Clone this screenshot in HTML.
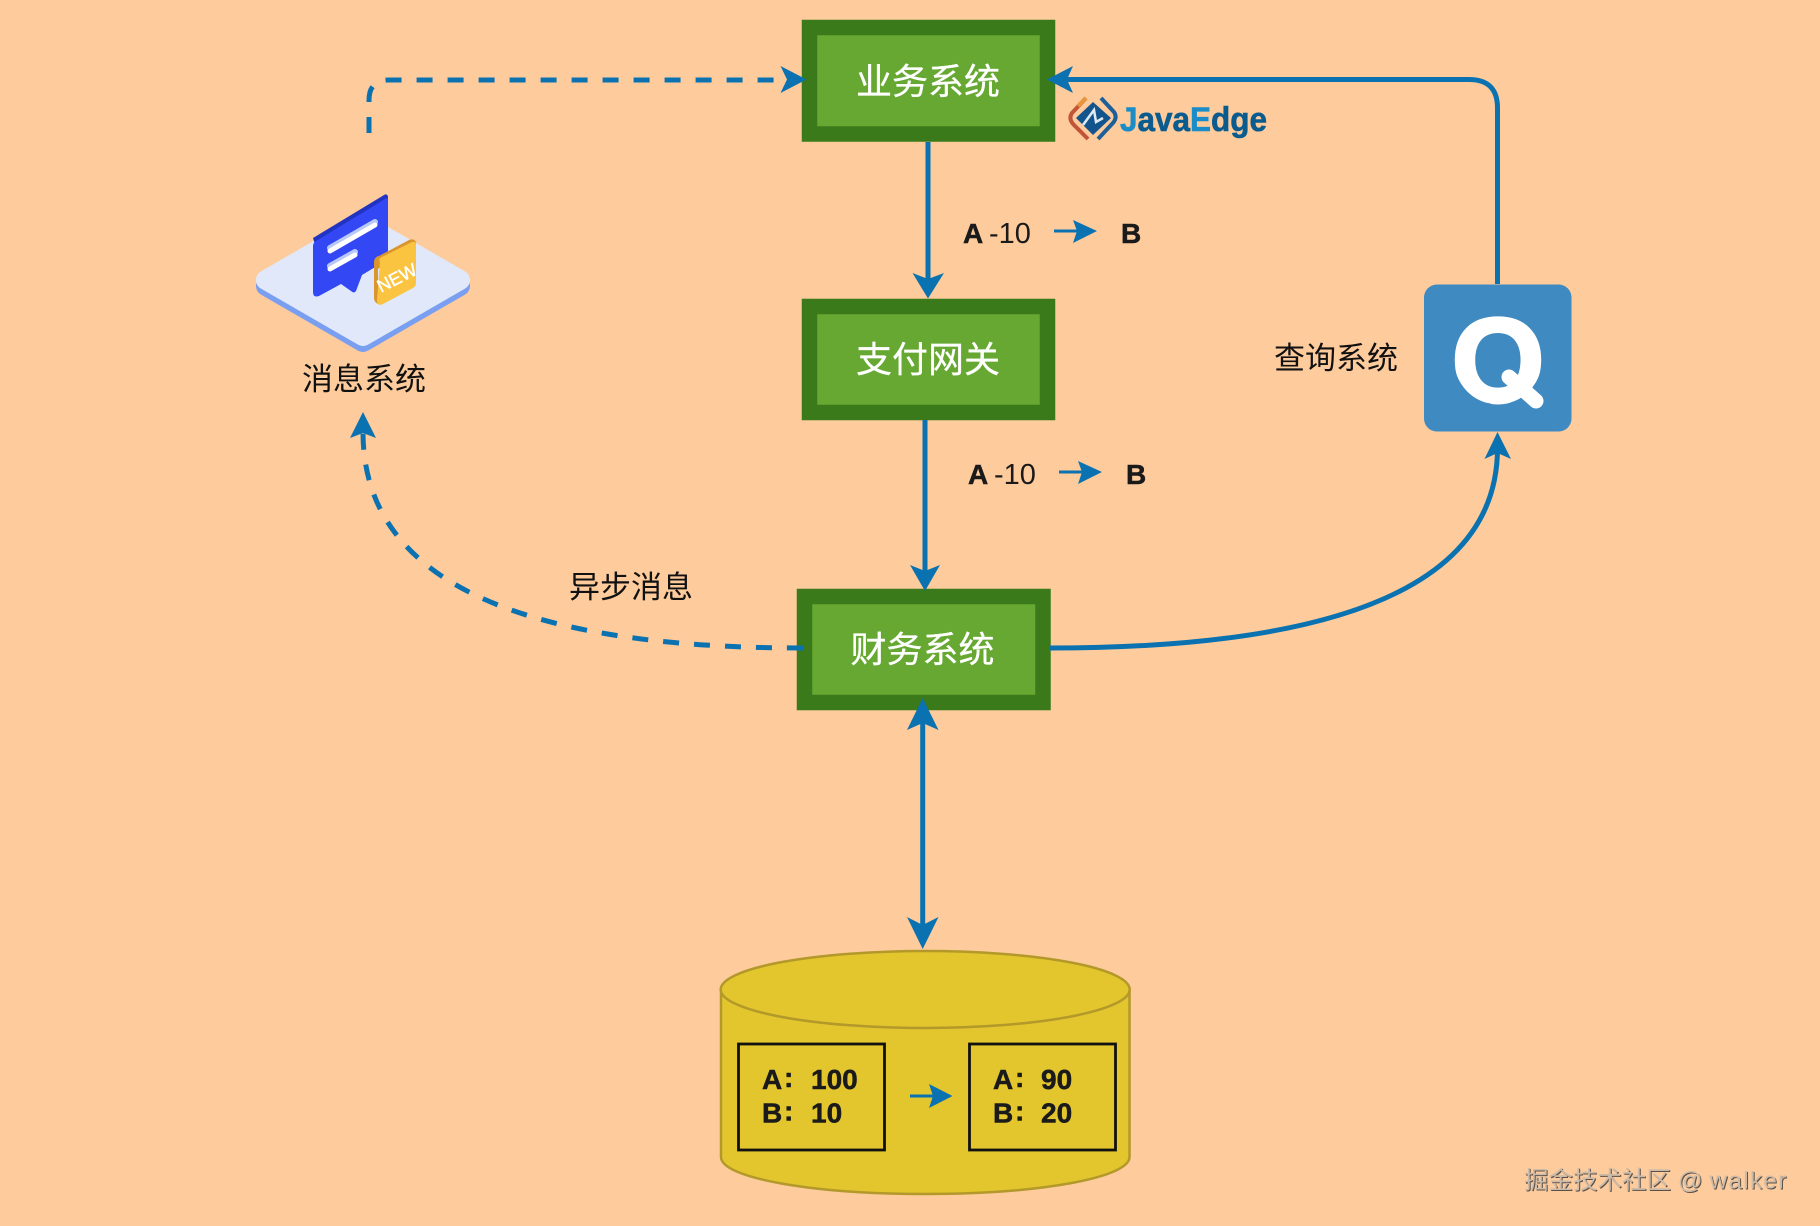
<!DOCTYPE html>
<html lang="zh">
<head>
<meta charset="utf-8">
<title>Diagram</title>
<style>
html,body{margin:0;padding:0;background:#fecb9c;}
svg{display:block;}
text{font-family:"Liberation Sans","Noto Sans CJK SC",sans-serif;}
.cn{font-size:31px;fill:#111;text-anchor:middle;}
.box{font-size:36px;fill:#fff;text-anchor:middle;stroke:#fff;stroke-width:.3px;}
.b{font-weight:bold;fill:#1a1a1a;font-size:28px;stroke:#1a1a1a;stroke-width:.5px;}
.r{fill:#1a1a1a;font-size:29px;}
</style>
</head>
<body>
<svg width="1820" height="1226" viewBox="0 0 1820 1226" xmlns="http://www.w3.org/2000/svg">
<defs><clipPath id="qc"><ellipse cx="1498" cy="357.500" rx="44.500" ry="47"/></clipPath></defs>
<rect width="1820" height="1226" fill="#fecb9c"/>

<!-- cylinder -->
<path d="M721,990 V1157 C721,1178 812,1194 925,1194 C1038,1194 1129.500,1178 1129.500,1157 V990 Z" fill="#e3c62e" stroke="#b3982a" stroke-width="2.500"/>
<ellipse cx="925.200" cy="989.500" rx="204.500" ry="38.500" fill="#e3c62e" stroke="#b3982a" stroke-width="2.500"/>
<rect x="738.500" y="1044" width="146" height="106" fill="none" stroke="#111" stroke-width="2.800"/>
<rect x="969.500" y="1044" width="146" height="106" fill="none" stroke="#111" stroke-width="2.800"/>
<g class="db">
<text class="b" x="762" y="1089">A</text><text class="b" x="784" y="1087">:</text><text class="b" x="811" y="1089">100</text>
<text class="b" x="762" y="1122.500">B</text><text class="b" x="784" y="1120.500">:</text><text class="b" x="811" y="1122.500">10</text>
<text class="b" x="993" y="1089">A</text><text class="b" x="1015" y="1087">:</text><text class="b" x="1041" y="1089">90</text>
<text class="b" x="993" y="1122.500">B</text><text class="b" x="1015" y="1120.500">:</text><text class="b" x="1041" y="1122.500">20</text>
</g>
<path d="M910,1096 H936" stroke="#0a72b0" stroke-width="3" fill="none"/>
<polygon points="952.500,1096 929,1084 933,1096 929,1108" fill="#0a72b0"/>

<!-- green boxes -->
<g fill="#66a832" stroke="#3a7a1a" stroke-width="15.500">
<rect x="809.500" y="27.500" width="238" height="106.500"/>
<rect x="809.500" y="306.500" width="238" height="106"/>
<rect x="804.500" y="596.500" width="238.500" height="106"/>
</g>
<text class="box" x="928" y="94">业务系统</text>
<text class="box" x="928" y="372">支付网关</text>
<text class="box" x="922.500" y="662">财务系统</text>

<!-- connectors -->
<g fill="none" stroke="#0a72b0" stroke-width="5">
<path d="M369,133 V100 Q369,80 389,80 H785" stroke-dasharray="16 15"/>
<path d="M1497.500,284 V108 Q1497.500,79.500 1469,79.500 H1060"/>
<path d="M928,142 V285"/>
<path d="M925,420 V578"/>
<path d="M922.700,715 V935"/>
<path d="M1050,648 Q1497.500,648 1497.500,448"/>
<path d="M803,648 Q363,648 363,432" stroke-dasharray="16 15"/>
</g>
<g fill="#0a72b0">
<polygon points="806.500,79.500 780.500,66 787,79.500 780.500,93"/>
<polygon points="1047,79.500 1073,66 1067,79.500 1073,93"/>
<polygon points="928,298.500 912.500,273 928,279 944,273"/>
<polygon points="925,591 910,565 925,571 940,565"/>
<polygon points="922.700,698 907,730 922.700,723 938.500,730"/>
<polygon points="922.700,949 907,917 922.700,925 938.500,917"/>
<polygon points="1497.500,432 1484.500,459 1497.500,453 1511,459"/>
<polygon points="363,412 350,438 363,433 376,438"/>
</g>

<!-- small A-10 B labels -->
<g>
<text class="b" x="963" y="243">A</text><text class="r" x="989" y="243">-10</text><text class="b" x="1121" y="243">B</text>
<path d="M1054,231 H1082" stroke="#0a72b0" stroke-width="3" fill="none"/>
<polygon points="1097,231 1073,220 1077,231 1073,243" fill="#0a72b0"/>
</g>
<g transform="translate(5,241)">
<text class="b" x="963" y="243">A</text><text class="r" x="989" y="243">-10</text><text class="b" x="1121" y="243">B</text>
<path d="M1054,231 H1082" stroke="#0a72b0" stroke-width="3" fill="none"/>
<polygon points="1097,231 1073,220 1077,231 1073,243" fill="#0a72b0"/>
</g>

<!-- Q -->
<rect x="1424" y="284.500" width="147.500" height="147" rx="13" fill="#3f8ac0"/>
<g clip-path="url(#qc)">
<text x="1498" y="401.500" font-size="120" font-weight="bold" fill="#fff" stroke="#fff" stroke-width="3" text-anchor="middle">Q</text>
</g>
<path d="M1509,377 L1536,401" stroke="#fff" stroke-width="15" stroke-linecap="round"/>

<text class="cn" x="1336" y="369">查询系统</text>
<text class="cn" x="364" y="390">消息系统</text>
<text class="cn" x="631" y="598">异步消息</text>

<!-- JavaEdge logo -->
<g>
<path d="M1086,98 L1072,113 Q1068,119 1074,125 L1088,139" fill="none" stroke="#c0553a" stroke-width="4"/>
<path d="M1101,98 L1114,112 Q1118,118 1112,124 L1098,139" fill="none" stroke="#1d5f98" stroke-width="4"/>
<path d="M1086,98 L1078,106" fill="none" stroke="#e8963c" stroke-width="4"/>
<polygon points="1093,102 1111,118 1093,135 1076,118" fill="#13548c"/>
<path d="M1083,125 L1094,110 L1096,122 L1103,118" stroke="#dfeaf5" stroke-width="2.500" fill="none"/>
<text x="1120" y="131" font-size="34" font-weight="bold" textLength="147" lengthAdjust="spacingAndGlyphs" fill="#0b5c8e" stroke="#0b5c8e" stroke-width=".6"><tspan fill="#1a8cc8" stroke="#1a8cc8">J</tspan>ava<tspan fill="#1a8cc8" stroke="#1a8cc8">E</tspan>dge</text>
</g>

<!-- message icon -->
<g>
<polygon points="266,286 363,230 460,286 363,342" fill="#7b9ff0" stroke="#7b9ff0" stroke-width="20" stroke-linejoin="round"/>
<polygon points="266,280 363,224 460,280 363,336" fill="#e0e8fa" stroke="#e0e8fa" stroke-width="20" stroke-linejoin="round"/>
<path d="M313,238 L384,195 Q388,193 388,198 L388,205 L316,248 Z" fill="#2133c0"/>
<path d="M316,241 L385,199 Q388,197 388,200 V256 Q388,259 385,261 L362,275 L356,291 Q354,294 351,291 L341,284 L319,296 Q313,298 313,292 V246 Q313,243 316,241 Z" fill="#3347f5"/>
<path d="M330,248 L375,222" stroke="#b8c8f8" stroke-width="6" stroke-linecap="round"/>
<path d="M330,266 L355,252" stroke="#b8c8f8" stroke-width="6" stroke-linecap="round"/>
<path d="M330,251 L375,225" stroke="#fff" stroke-width="5" stroke-linecap="round"/>
<path d="M330,269 L355,255" stroke="#fff" stroke-width="5" stroke-linecap="round"/>
<path d="M376,263 Q373,260 377,257 L409,240 Q415,238 416,243 L416,246 L376,270 Z" fill="#d9962f"/>
<path d="M374,262 Q374,258 378,256 V304 Q374,302 374,298 Z" fill="#d9962f"/>
<path d="M380,262 Q378,259 382,257 L412,242 Q416,241 416,245 V283 Q416,286 413,288 L383,304 Q377,307 377,300 Z" fill="#fbc440"/>
<text x="397" y="284" font-size="18" fill="#fff" stroke="#fff" stroke-width=".4" text-anchor="middle" transform="rotate(-27 397 278)">NEW</text>
</g>

<!-- watermark -->
<text x="1524" y="1188.500" font-size="24.500" fill="#cdbba8" style="text-shadow:1px 1px 0 #5a5048">掘金技术社区 @ <tspan style="letter-spacing:1.200px">walker</tspan></text>
</svg>
</body>
</html>
